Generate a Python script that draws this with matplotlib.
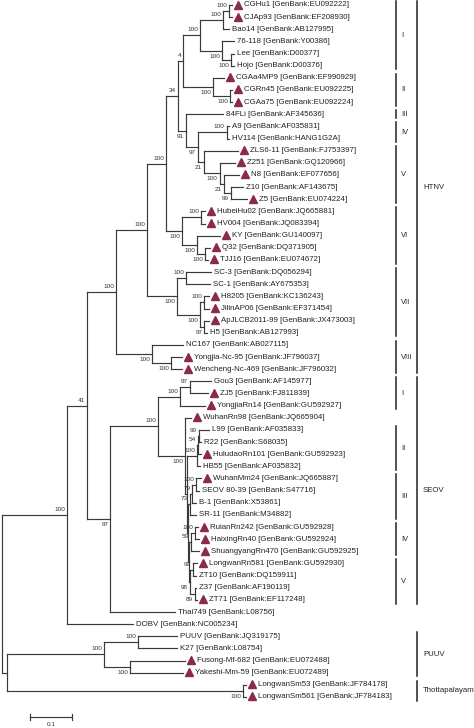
import matplotlib
matplotlib.use("Agg")
import matplotlib.pyplot as plt
from matplotlib import transforms

plt.rcParams['font.family'] = ['Liberation Sans', 'DejaVu Sans']

# leaves, top to bottom
leaf_names = ['CGHu1', 'CJAp93', 'Bao14', '76-118', 'Lee', 'Hojo', 'CGAa4MP9', 'CGRn45', 'CGAa75',
              '84FLi', 'A9', 'HV114', 'ZLS6-11', 'Z251', 'N8', 'Z10', 'Z5', 'HubeiHu02', 'HV004',
              'KY', 'Q32', 'TJJ16', 'SC-3', 'SC-1', 'H8205', 'JilinAP06', 'ApJLCB2011-99', 'H5',
              'NC167', 'Yongjia-Nc-95', 'Wencheng-Nc-469', 'Gou3', 'ZJ5', 'YongjiaRn14', 'WuhanRn98',
              'L99', 'R22', 'HuludaoRn101', 'HB55', 'WuhanMm24', 'SEOV 80-39', 'B-1', 'SR-11',
              'RuianRn242', 'HaixingRn40', 'ShuangyangRn470', 'LongwanRn581', 'ZT10', 'Z37', 'ZT71',
              'Thai749', 'DOBV', 'PUUV', 'K27', 'Fusong-Mf-682', 'Yakeshi-Mm-59', 'LongwanSm53',
              'LongwanSm561']
accessions = ['EU092222', 'EF208930', 'AB127995', 'Y00386', 'D00377', 'D00376', 'EF990929', 'EU092225',
              'EU092224', 'AF345636', 'AF035831', 'HANG1G2A', 'FJ753397', 'GQ120966', 'EF077656',
              'AF143675', 'EU074224', 'JQ665881', 'JQ083394', 'GU140097', 'DQ371905', 'EU074672',
              'DQ056294', 'AY675353', 'KC136243', 'EF371454', 'JX473003', 'AB127993', 'AB027115',
              'JF796037', 'JF796032', 'AF145977', 'FJ811839', 'GU592927', 'JQ665904', 'AF035833',
              'S68035', 'GU592923', 'AF035832', 'JQ665887', 'S47716', 'X53861', 'M34882', 'GU592928',
              'GU592924', 'GU592925', 'GU592930', 'DQ159911', 'AF190119', 'EF117248', 'L08756',
              'NC005234', 'JQ319175', 'L08754', 'EU072488', 'EU072489', 'JF784178', 'JF784183']
# strains from this study (triangle)
new_strains = ['CGHu1', 'CJAp93', 'CGAa4MP9', 'CGRn45', 'CGAa75', 'ZLS6-11', 'Z251', 'N8', 'Z5',
               'HubeiHu02', 'HV004', 'KY', 'Q32', 'TJJ16', 'H8205', 'JilinAP06', 'ApJLCB2011-99',
               'Yongjia-Nc-95', 'Wencheng-Nc-469', 'ZJ5', 'YongjiaRn14', 'WuhanRn98', 'HuludaoRn101',
               'WuhanMm24', 'RuianRn242', 'HaixingRn40', 'ShuangyangRn470', 'LongwanRn581', 'ZT71',
               'Fusong-Mf-682', 'Yakeshi-Mm-59', 'LongwanSm53', 'LongwanSm561']

# tree pieces (newick, branch length = substitutions/site, internal label = bootstrap)
htnv_1 = ("(((CGHu1:0.007,CJAp93:0.007)100:0.014,Bao14:0.014)100:0.055,"
          "(76-118:0.029,(Lee:0.007,Hojo:0.007)100:0.021)100:0.052)100:0.040")
htnv_2 = "(CGAa4MP9:0.026,(CGRn45:0.005,CGAa75:0.005)100:0.040)100:0.071"
htnv_4 = "(A9:0.005,HV114:0.005)100:0.069"
htnv_5 = "(ZLS6-11:0.083,(Z251:0.036,(N8:0.036,(Z10:0.029,Z5:0.038)99:0.017)21:0.010)100:0.038)21:0.014"
htnv_6 = ("((HubeiHu02:0.010,HV004:0.010)100:0.045,"
          "(KY:0.055,(Q32:0.012,TJJ16:0.007)100:0.019)100:0.036)100:0.038")
htnv_7 = ("((SC-3:0.060,SC-1:0.057)100:0.021,((H8205:0.010,JilinAP06:0.010)100:0.010,"
          "(ApJLCB2011-99:0.010,H5:0.007)97:0.010)100:0.055)100:0.071")
htnv_8 = "(NC167:0.074,(Yongjia-Nc-95:0.026,Wencheng-Nc-469:0.026)100:0.045)100:0.086"
htnv = ("(((((" + htnv_1 + "," + htnv_2 + ")4:0.012,(84FLi:0.088,(" + htnv_4 + "," + htnv_5 +
        ")97:0.029)91:0.017)34:0.029," + htnv_6 + ")100:0.045," + htnv_7 + ")100:0.074," +
        htnv_8 + ")100:0.069")

seov_1 = "((Gou3:0.050,ZJ5:0.043)97:0.024,YongjiaRn14:0.060)100:0.052"
seov_2 = "(((L99:0.024,R22:0.005)99:0.002,HuludaoRn101:0.007)54:0.002,HB55:0.007)100:0.024"
seov_3 = "(((WuhanMm24:0.010,SEOV 80-39:0.007)100:0.010,B-1:0.010)79:0.005,SR-11:0.014)73:0.005"
seov_4 = "((RuianRn242:0.007,HaixingRn40:0.010)100:0.010,ShuangyangRn470:0.019)59:0.005"
seov_5 = "((LongwanRn581:0.010,ZT10:0.007)99:0.007,(Z37:0.002,ZT71:0.005)89:0.012)98:0.002"
seov = ("((" + seov_1 + ",(WuhanRn98:0.014,(" + seov_2 + ",(" + seov_3 + ",(" + seov_4 + "," +
        seov_5 + "):0.002):0.002):0.005)100:0.064)100:0.114,Thai749:0.155)97:0.055")

puuv = ("((PUUV:0.093,K27:0.093)100:0.081,"
        "(Fusong-Mf-682:0.131,Yakeshi-Mm-59:0.126)100:0.062)100:0.231")
tpm = "(LongwanSm53:0.007,LongwanSm561:0.007)100:0.562"

newick = "(((" + htnv + "," + seov + ")41:0.048,DOBV:0.157)100:0.155,(" + puuv + "," + tpm + "):0.012);"

genotype_bars = [('I', 0, 5), ('II', 6, 8), ('III', 9, 9), ('IV', 10, 11), ('V', 12, 16),
                 ('VI', 17, 21), ('VII', 22, 27), ('VIII', 28, 30), ('I', 31, 33), ('II', 35, 38),
                 ('III', 39, 42), ('IV', 43, 45), ('V', 46, 49)]
species_bars = [('HTNV', 0, 30), ('SEOV', 31, 49), ('PUUV', 52, 55), ('Thottapalayam', 56, 57)]


def parse_newick(s):
    pos = 0

    def node():
        nonlocal pos
        n = {'children': [], 'name': '', 'len': 0.0}
        if s[pos] == '(':
            pos += 1
            n['children'].append(node())
            while s[pos] == ',':
                pos += 1
                n['children'].append(node())
            pos += 1
        start = pos
        while s[pos] not in ',():;':
            pos += 1
        n['name'] = s[start:pos].strip()
        if s[pos] == ':':
            pos += 1
            start = pos
            while s[pos] not in ',();':
                pos += 1
            n['len'] = float(s[start:pos])
        return n

    return node()


tree = parse_newick(newick)
row = {name: i for i, name in enumerate(leaf_names)}
acc = dict(zip(leaf_names, accessions))


def layout(n, x0):
    n['x'] = x0 + n['len']
    if n['children']:
        for c in n['children']:
            layout(c, n['x'])
        n['y'] = (n['children'][0]['y'] + n['children'][-1]['y']) / 2
    else:
        n['y'] = row[n['name']]


layout(tree, 0.0)

fig = plt.figure(figsize=(4.74, 7.28), dpi=100)
ax = fig.add_axes([0, 0, 1, 1])
ax.set_xlim(-2 / 420, 472 / 420)
ax.set_ylim(723 / 12.14, -5 / 12.14)
ax.axis('off')

LINE = '#3a3a3a'
LW = 0.85
TRI = '#8a2b4c'


def shifted(dx, dy):
    return transforms.offset_copy(ax.transData, fig=fig, x=dx, y=dy, units='dots')


def draw(n, parent=None, k=0):
    if parent is not None:
        ax.plot([parent['x'], n['x']], [n['y'], n['y']], color=LINE, lw=LW, solid_capstyle='projecting')
    if n['children']:
        ax.plot([n['x'], n['x']], [n['children'][0]['y'], n['children'][-1]['y']],
                color=LINE, lw=LW, solid_capstyle='projecting')
        if n['name'] and parent is not None:
            dy = 5.5 if k == 0 else -5.5
            ax.text(n['x'], n['y'], n['name'], transform=shifted(-2, dy), ha='right', va='center',
                    fontsize=4.6, color='#333333')
        for i, c in enumerate(n['children']):
            draw(c, n, i)
    else:
        label = f"{n['name']} [GenBank:{acc[n['name']]}]"
        if n['name'] in new_strains:
            ax.plot([n['x']], [n['y']], marker='^', ms=5.2, color=TRI, mec=TRI,
                    transform=shifted(6, 0.5))
            ax.text(n['x'], n['y'], label, transform=shifted(12, 0), ha='left', va='center',
                    fontsize=5.7, color='#222222')
        else:
            ax.text(n['x'], n['y'], label, transform=shifted(3, 0), ha='left', va='center',
                    fontsize=5.7, color='#222222')


draw(tree)

# clade bars
x_geno = (396 - 2) / 420
x_spec = (417 - 2) / 420
for name, i0, i1 in genotype_bars:
    ax.plot([x_geno, x_geno], [i0 - 0.35, i1 + 0.3], color='#222222', lw=1.1)
    ax.text(x_geno, (i0 + i1) / 2, name, transform=shifted(5, 0), ha='left', va='center',
            fontsize=5.4, color='#222222')
for name, i0, i1 in species_bars:
    ax.plot([x_spec, x_spec], [i0 - 0.35, i1 + 0.3], color='#222222', lw=1.1)
    ax.text(x_spec, (i0 + i1) / 2, name, transform=shifted(6, 0), ha='left', va='center',
            fontsize=5.6, color='#222222')

# scale bar
sb_x = (30 - 2) / 420
sb_y = (717 - 5) / 12.14
ax.plot([sb_x, sb_x + 0.1], [sb_y, sb_y], color=LINE, lw=LW)
for xx in (sb_x, sb_x + 0.1):
    ax.plot([xx, xx], [sb_y - 0.22, sb_y + 0.22], color=LINE, lw=LW)
ax.text(sb_x + 0.05, (725 - 5) / 12.14, '0.1', ha='center', va='center', fontsize=4.6, color='#333333')

fig.savefig('out.png', dpi=100)
